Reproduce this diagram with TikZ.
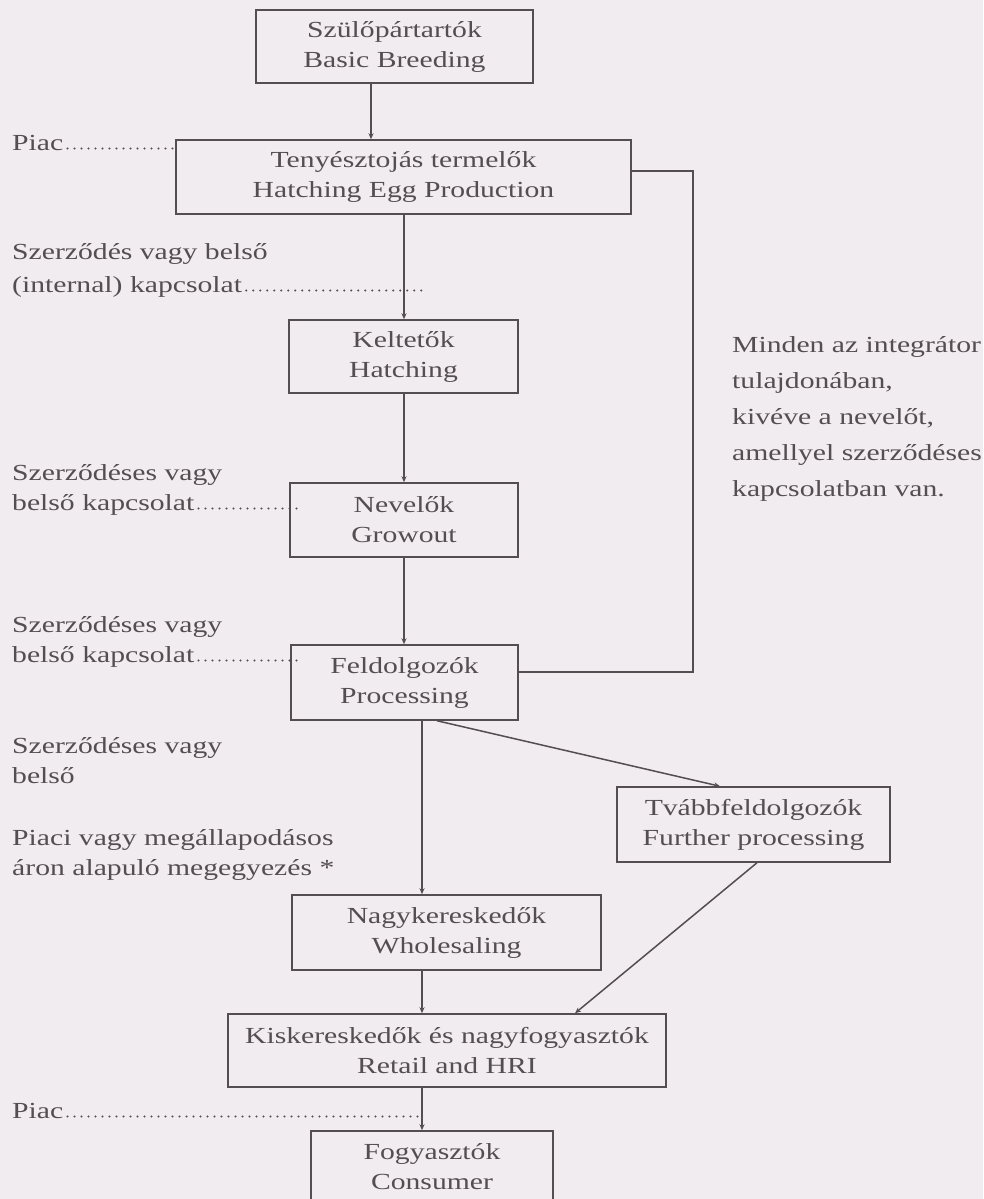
\documentclass[tikz,border=0pt]{standalone}
\usepackage{fontspec}
\setmainfont[FakeStretch=1.29]{Liberation Serif}
\usetikzlibrary{arrows.meta}
\definecolor{bg}{RGB}{241,236,239}
\definecolor{ink}{RGB}{84,77,81}
\begin{document}
\begin{tikzpicture}[x=1pt,y=-1pt,
  txt/.style={text=ink, font=\fontsize{23}{30}\selectfont},
  box/.style={txt, draw=ink, line width=1.5pt, align=center, inner sep=0pt},
  lbl/.style={txt, anchor=base west, inner sep=0pt},
  conn/.style={draw=ink, line width=1.5pt},
  arr/.style={conn, -{Stealth[length=6pt,width=5pt]}},
  leader/.style={draw=ink, line width=2.3pt, line cap=round, dash pattern=on 0pt off 7pt}]
\fill[bg] (0,0) rectangle (983,1199);
\useasboundingbox (0,0) rectangle (983,1199);

% boxes
\node[box, minimum width=277pt, minimum height=73pt] (b1) at (394.5,46.5) {Szülőpártartók\\Basic Breeding};
\node[box, minimum width=455pt, minimum height=74pt] (b2) at (403.5,177) {Tenyésztojás termelők\\Hatching Egg Production};
\node[box, minimum width=229pt, minimum height=73pt] (b3) at (403.5,356.5) {Keltetők\\Hatching};
\node[box, minimum width=228pt, minimum height=74pt] (b4) at (404,520) {Nevelők\\Growout};
\node[box, minimum width=227pt, minimum height=75pt] (b5) at (404.5,682.5) {Feldolgozók\\Processing};
\node[box, minimum width=273pt, minimum height=75pt] (b6) at (753.5,824.5) {Tvábbfeldolgozók\\Further processing};
\node[box, minimum width=309pt, minimum height=75pt] (b7) at (446.5,932.5) {Nagykereskedők\\Wholesaling};
\node[box, minimum width=438pt, minimum height=73pt] (b8) at (447,1050.5) {Kiskereskedők és nagyfogyasztók\\Retail and HRI};
\node[box, minimum width=242pt, minimum height=71pt] (b9) at (432,1166.5) {Fogyasztók\\Consumer};

% helper coordinates
\coordinate (xA) at (371,0);
\coordinate (xB) at (422,0);
\coordinate (xC) at (404,0);
\coordinate (xD1) at (437,0);
\coordinate (xD2) at (720,0);
\coordinate (xD3) at (757,0);
\coordinate (xD4) at (575,0);
\coordinate (xL) at (302,0);
\coordinate (loopTop) at (693,171);
\coordinate (loopBot) at (693,672);

% connectors
\draw[arr] (b1.south -| xA) -- (b2.north -| xA);
\draw[arr] (b2.south -| xC) -- (b3.north -| xC);
\draw[arr] (b3.south -| xC) -- (b4.north -| xC);
\draw[arr] (b4.south -| xC) -- (b5.north -| xC);
\draw[arr] (b5.south -| xB) -- (b7.north -| xB);
\draw[arr] (b7.south -| xB) -- (b8.north -| xB);
\draw[arr] (b8.south -| xB) -- (b9.north -| xB);
\draw[arr] (b5.south -| xD1) -- (b6.north -| xD2);
\draw[arr] (b6.south -| xD3) -- (b8.north -| xD4);
\draw[conn] (b2.east |- loopTop) -- (loopTop) -- (loopBot) -- (b5.east |- loopBot);

% left labels
\node[lbl] (p1) at (12,150) {Piac};
\node[lbl] (l2a) at (12,259) {Szerződés vagy belső};
\node[lbl] (l2b) at (12,292) {(internal) kapcsolat};
\node[lbl] (l3a) at (12,480) {Szerződéses vagy};
\node[lbl] (l3b) at (12,510) {belső kapcsolat};
\node[lbl] (l4a) at (12,632) {Szerződéses vagy};
\node[lbl] (l4b) at (12,662) {belső kapcsolat};
\node[lbl] (l5a) at (12,753) {Szerződéses vagy};
\node[lbl] (l5b) at (12,783) {belső};
\node[lbl] (l6a) at (12,845) {Piaci vagy megállapodásos};
\node[lbl] (l6b) at (12,875) {áron alapuló megegyezés *};
\node[lbl] (p2) at (12,1118) {Piac};

% dotted leaders
\draw[leader] ([shift={(4pt,1.5pt)}]p1.base east) -- ([yshift=1.5pt]p1.base east -| b2.west);
\draw[leader] ([shift={(4pt,1.5pt)}]l2b.base east) -- ([yshift=1.5pt]l2b.base east -| xB);
\draw[leader] ([shift={(4pt,1.5pt)}]l3b.base east) -- ([yshift=1.5pt]l3b.base east -| xL);
\draw[leader] ([shift={(4pt,1.5pt)}]l4b.base east) -- ([yshift=1.5pt]l4b.base east -| xL);
\draw[leader] ([shift={(4pt,1.5pt)}]p2.base east) -- ([yshift=1.5pt]p2.base east -| xB);

% note on the right
\node[txt, anchor=north west, align=left, inner sep=0pt, font=\fontsize{23}{36}\selectfont] (note) at (732,336)
  {Minden az integrátor\\tulajdonában,\\kivéve a nevelőt,\\amellyel szerződéses\\kapcsolatban van.};
\end{tikzpicture}
\end{document}
